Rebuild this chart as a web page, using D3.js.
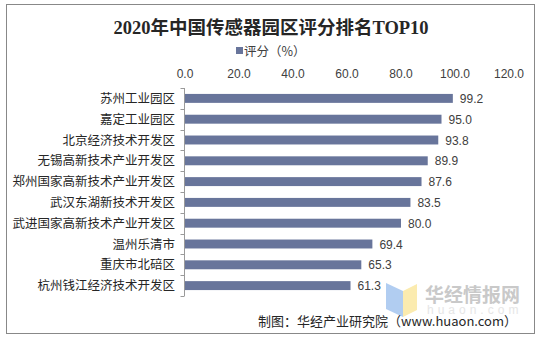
<!DOCTYPE html>
<html><head><meta charset="utf-8">
<script src="https://cdn.jsdelivr.net/npm/d3@7"></script>
<style>
body{margin:0;background:#fff;}
svg{display:block;}
</style></head>
<body>
<svg id="chart" width="541" height="340"></svg>
<script>
const title = "2020年中国传感器园区评分排名TOP10";
const seriesName = "评分（%）";
const categories = ["苏州工业园区","嘉定工业园区","北京经济技术开发区","无锡高新技术产业开发区","郑州国家高新技术产业开发区","武汉东湖新技术开发区","武进国家高新技术产业开发区","温州乐清市","重庆市北碚区","杭州钱江经济技术开发区"];
const values = [99.2,95.0,93.8,89.9,87.6,83.5,80.0,69.4,65.3,61.3];
const xTicks = [0,20,40,60,80,100,120];
const source = "制图：华经产业研究院（www.huaon.com）";

const svg = d3.select("#chart");
const barColor = "#68759b";
const textColor = "#404040";
const sans = "'Liberation Sans', Arial, 'Noto Sans CJK SC', sans-serif";
const cjk = "'Noto Sans CJK SC', 'Liberation Sans', sans-serif";

// outer border
svg.append("rect").attr("x",6.5).attr("y",4.5).attr("width",528).attr("height",329)
  .attr("fill","#fff").attr("stroke","#888").attr("stroke-width",1);

// title
svg.append("text").attr("x",271).attr("y",34).attr("text-anchor","middle")
  .attr("font-family","'Liberation Serif', 'Noto Sans CJK SC', serif")
  .attr("font-weight","bold").attr("font-size",18.5).attr("fill","#262626").text(title);

// legend
svg.append("rect").attr("x",236).attr("y",47).attr("width",7).attr("height",7).attr("fill",barColor);
svg.append("text").attr("x",244).attr("y",56).attr("font-family",cjk).attr("font-size",12.5)
  .attr("fill",textColor).text(seriesName);

const x = d3.scaleLinear().domain([0,120]).range([185,509]);
const y = d3.scaleBand().domain(categories).range([88,296]).paddingInner(0.57).paddingOuter(0.285);

// top axis labels
svg.append("g").selectAll("text").data(xTicks).join("text")
  .attr("x",d=>x(d)).attr("y",78).attr("text-anchor","middle")
  .attr("font-family",sans).attr("font-size",12).attr("fill",textColor)
  .text(d=>d3.format(".1f")(d));

// bars
svg.append("g").selectAll("rect").data(values).join("rect")
  .attr("x",x(0)).attr("y",(d,i)=>y(categories[i]))
  .attr("width",d=>x(d)-x(0)).attr("height",y.bandwidth())
  .attr("fill",barColor);

// value labels
svg.append("g").selectAll("text").data(values).join("text")
  .attr("x",d=>x(d)+7).attr("y",(d,i)=>y(categories[i])+y.bandwidth()/2+4.5)
  .attr("font-family",sans).attr("font-size",12).attr("fill",textColor)
  .text(d=>d3.format(".1f")(d));

// y axis line & ticks
const step = y.step();
const ax = svg.append("g").attr("stroke","#9a9a9a").attr("stroke-width",1).attr("fill","none");
ax.append("line").attr("x1",184.5).attr("x2",184.5).attr("y1",88).attr("y2",296);
const boundaries = d3.range(categories.length+1).map(i=>88+i*step);
ax.selectAll("line.t").data(boundaries).join("line").attr("class","t")
  .attr("x1",180.5).attr("x2",184.5).attr("y1",d=>Math.round(d)+0.5).attr("y2",d=>Math.round(d)+0.5);

// category labels
svg.append("g").selectAll("text").data(categories).join("text")
  .attr("x",175).attr("y",d=>y(d)+y.bandwidth()/2+4.5).attr("text-anchor","end")
  .attr("font-family",cjk).attr("font-size",12.5).attr("fill","#262626").text(d=>d);

// watermark
const wm = svg.append("g");
wm.append("path").attr("d","M386,283 L403,291 L403,317 L386,309 Z").attr("fill","#a9c8ef").attr("opacity",0.9);
wm.append("path").attr("d","M403,291 L417,284 L417,310 L403,317 Z").attr("fill","#fbe9a6").attr("opacity",0.9);
wm.append("text").attr("x",425).attr("y",302).attr("font-family",cjk).attr("font-weight","bold")
  .attr("font-size",19).attr("fill","#c9c9c9").text("华经情报网");
wm.append("text").attr("x",427).attr("y",314).attr("font-family",sans)
  .attr("font-size",12).attr("letter-spacing",4).attr("fill","#e6e6e6").text("huaon.com");

// source
svg.append("text").attr("x",517).attr("y",326).attr("text-anchor","end")
  .attr("font-family",cjk).attr("font-size",13).attr("fill","#262626").text(source);
</script>
</body></html>
